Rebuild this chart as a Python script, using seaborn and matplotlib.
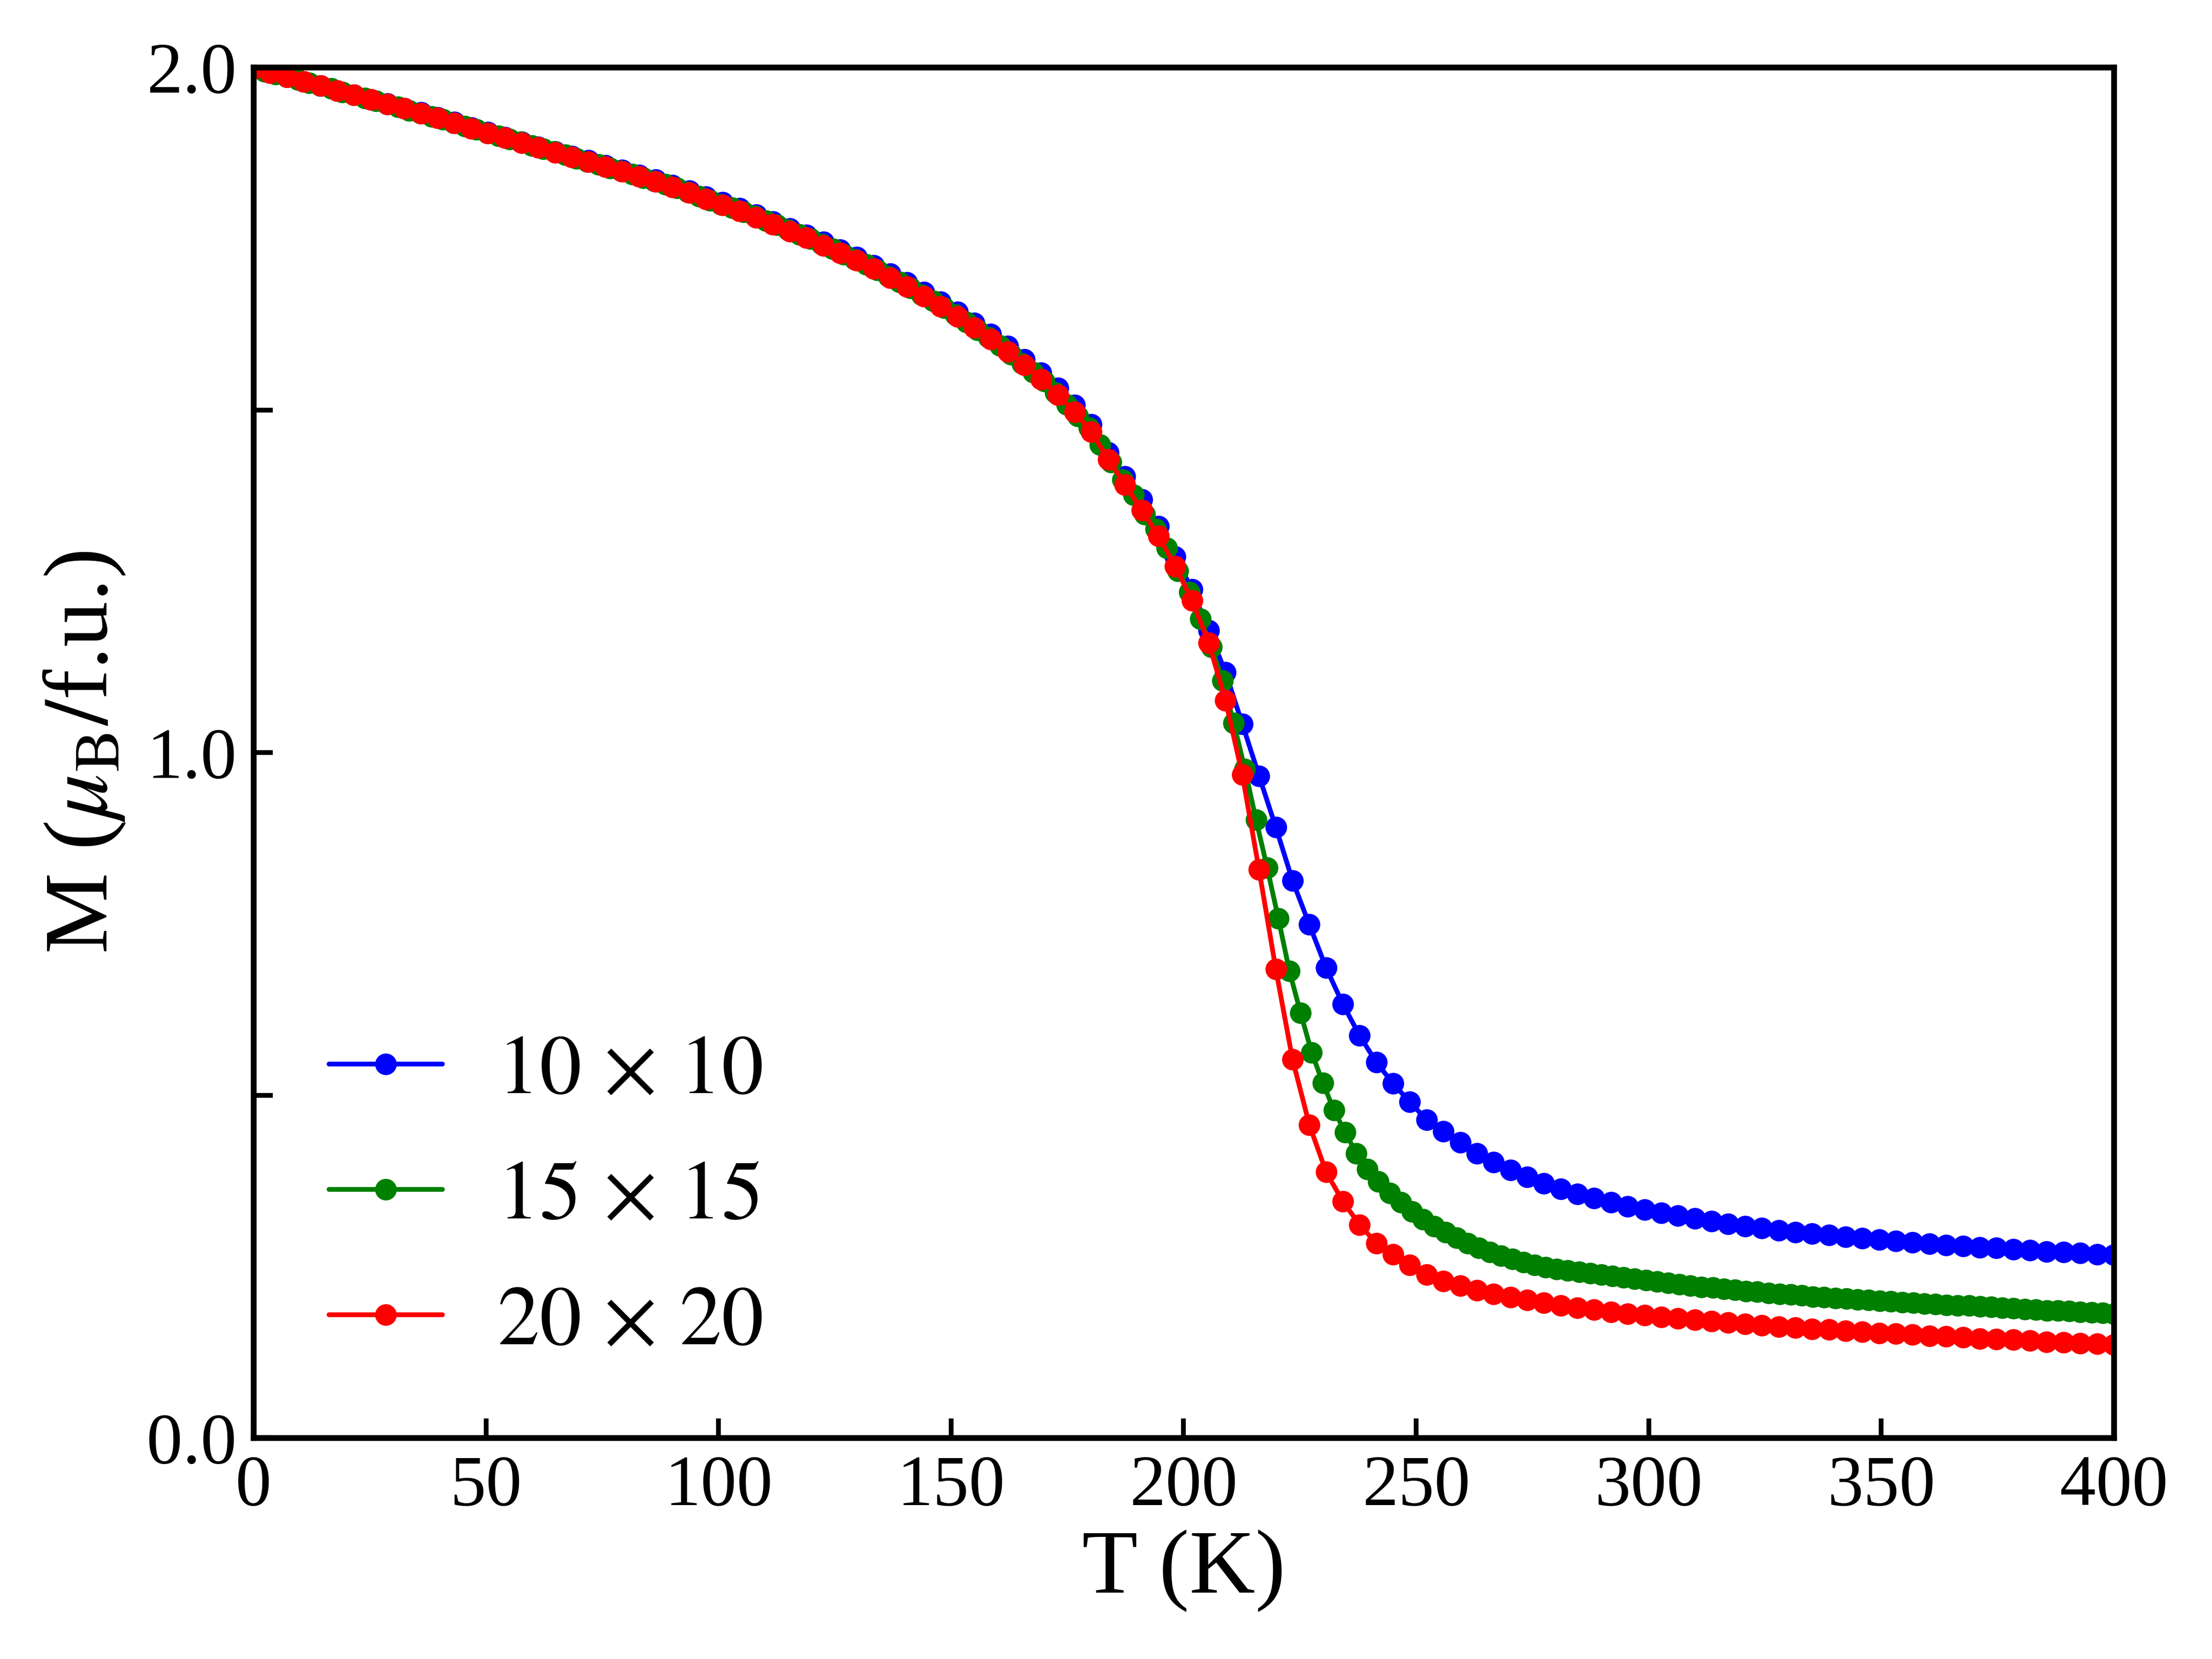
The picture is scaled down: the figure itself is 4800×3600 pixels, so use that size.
import numpy as np
import matplotlib
matplotlib.use("Agg")
import matplotlib.pyplot as plt
import seaborn as sns

# magnetization vs temperature for three lattice sizes
m_10 = [1.998, 1.992, 1.986, 1.979, 1.973, 1.966, 1.960, 1.953, 1.947, 1.940,
        1.934, 1.927, 1.920, 1.912, 1.905, 1.898, 1.891, 1.884, 1.877, 1.870,
        1.864, 1.857, 1.850, 1.843, 1.836, 1.828, 1.820, 1.811, 1.803, 1.794,
        1.785, 1.775, 1.765, 1.755, 1.745, 1.734, 1.723, 1.711, 1.699, 1.686,
        1.672, 1.658, 1.643, 1.627, 1.611, 1.593, 1.574, 1.554, 1.532, 1.507,
        1.479, 1.438, 1.403, 1.369, 1.330, 1.286, 1.238, 1.178, 1.117, 1.042,
        0.966, 0.891, 0.813, 0.749, 0.686, 0.633, 0.587, 0.548, 0.517, 0.490,
        0.464, 0.447, 0.431, 0.415, 0.402, 0.391, 0.381, 0.371, 0.363, 0.356,
        0.350, 0.344, 0.338, 0.333, 0.328, 0.324, 0.320, 0.316, 0.312, 0.309,
        0.306, 0.303, 0.300, 0.298, 0.296, 0.293, 0.291, 0.289, 0.287, 0.285,
        0.283, 0.281, 0.280, 0.278, 0.277, 0.275, 0.274, 0.272, 0.271, 0.270,
        0.268, 0.267]

m_15 = [1.998, 1.994, 1.990, 1.986, 1.982, 1.977, 1.973, 1.969, 1.964, 1.960,
        1.955, 1.951, 1.946, 1.942, 1.937, 1.933, 1.928, 1.924, 1.919, 1.914,
        1.909, 1.904, 1.900, 1.895, 1.891, 1.886, 1.881, 1.877, 1.872, 1.867,
        1.862, 1.858, 1.853, 1.849, 1.844, 1.839, 1.834, 1.829, 1.824, 1.818,
        1.812, 1.806, 1.800, 1.795, 1.789, 1.783, 1.776, 1.770, 1.763, 1.756,
        1.750, 1.742, 1.735, 1.727, 1.720, 1.712, 1.704, 1.695, 1.687, 1.678,
        1.668, 1.659, 1.649, 1.639, 1.628, 1.617, 1.606, 1.594, 1.581, 1.568,
        1.555, 1.542, 1.525, 1.508, 1.491, 1.474, 1.449, 1.424, 1.398, 1.376,
        1.348, 1.326, 1.299, 1.265, 1.234, 1.195, 1.154, 1.105, 1.043, 0.976,
        0.902, 0.832, 0.758, 0.681, 0.620, 0.562, 0.518, 0.478, 0.446, 0.415,
        0.392, 0.374, 0.357, 0.344, 0.330, 0.319, 0.309, 0.300, 0.292, 0.284,
        0.277, 0.271, 0.266, 0.261, 0.256, 0.252, 0.249, 0.246, 0.244, 0.242,
        0.240, 0.238, 0.236, 0.234, 0.232, 0.230, 0.228, 0.226, 0.224, 0.222,
        0.220, 0.219, 0.217, 0.216, 0.214, 0.213, 0.211, 0.210, 0.209, 0.208,
        0.206, 0.205, 0.204, 0.203, 0.202, 0.201, 0.200, 0.199, 0.198, 0.197,
        0.196, 0.195, 0.194, 0.193, 0.193, 0.192, 0.191, 0.190, 0.189, 0.188,
        0.187, 0.186, 0.186, 0.185, 0.184, 0.183, 0.182, 0.181]

m_20 = [1.998, 1.992, 1.986, 1.979, 1.973, 1.966, 1.960, 1.953, 1.946, 1.940,
        1.933, 1.926, 1.919, 1.911, 1.904, 1.897, 1.890, 1.883, 1.876, 1.869,
        1.862, 1.855, 1.848, 1.841, 1.833, 1.825, 1.817, 1.808, 1.799, 1.790,
        1.781, 1.771, 1.761, 1.751, 1.740, 1.729, 1.718, 1.706, 1.693, 1.680,
        1.666, 1.651, 1.636, 1.620, 1.603, 1.585, 1.566, 1.545, 1.522, 1.497,
        1.468, 1.428, 1.391, 1.354, 1.316, 1.272, 1.222, 1.160, 1.076, 0.968,
        0.829, 0.684, 0.552, 0.457, 0.388, 0.345, 0.311, 0.284, 0.268, 0.252,
        0.238, 0.229, 0.222, 0.215, 0.210, 0.205, 0.201, 0.197, 0.193, 0.190,
        0.187, 0.184, 0.181, 0.179, 0.176, 0.174, 0.172, 0.170, 0.168, 0.166,
        0.164, 0.162, 0.161, 0.159, 0.158, 0.156, 0.155, 0.153, 0.152, 0.151,
        0.149, 0.148, 0.147, 0.145, 0.144, 0.143, 0.142, 0.140, 0.139, 0.138,
        0.137, 0.136]

labels = [r'$10\,\times\,10$', r'$15\,\times\,15$', r'$20\,\times\,20$']
colors = ['blue', 'green', 'red']
series = [m_10, m_15, m_20]

sns.set_style("ticks")
plt.rcParams['font.family'] = ['Liberation Serif', 'DejaVu Serif']
plt.rcParams['mathtext.fontset'] = 'stix'
for key in ['text.color', 'axes.labelcolor', 'xtick.color', 'ytick.color',
            'axes.edgecolor']:
    plt.rcParams[key] = 'black'

fig, ax = plt.subplots(figsize=(6.4, 4.8), dpi=750)
fig.subplots_adjust(left=0.1146, right=0.9556, top=0.9594, bottom=0.1333)

for m, c, lab in zip(series, colors, labels):
    # temperatures are an evenly spaced sweep from 0 to 400 K
    t = np.linspace(0, 400, len(m))
    sns.lineplot(x=t, y=m, color=c, marker='o', markersize=4.5,
                 markeredgewidth=0, linewidth=1.0, label=lab, ax=ax)

ax.set_xlim(0, 400)
ax.set_ylim(0, 2.0)
ax.set_xticks(np.arange(0, 401, 50))
ax.set_yticks([0, 0.5, 1.0, 1.5, 2.0])
ax.set_yticklabels(['0.0', '', '1.0', '', '2.0'])
ax.tick_params(direction='in', length=4, width=1.0, labelsize=15,
               colors='black', top=False, right=False)
for s in ax.spines.values():
    s.set_linewidth(1.2)
    s.set_color('black')

ax.set_xlabel('T (K)', fontsize=19, labelpad=2)
ax.set_ylabel(r'M ($\mu_{\rm B}/$f.u.)', fontsize=19)
ax.legend(loc='lower left', frameon=False, fontsize=17.5, handlelength=1.35,
          handletextpad=0.65, labelspacing=0.58)

fig.savefig('out.png', dpi=750)
